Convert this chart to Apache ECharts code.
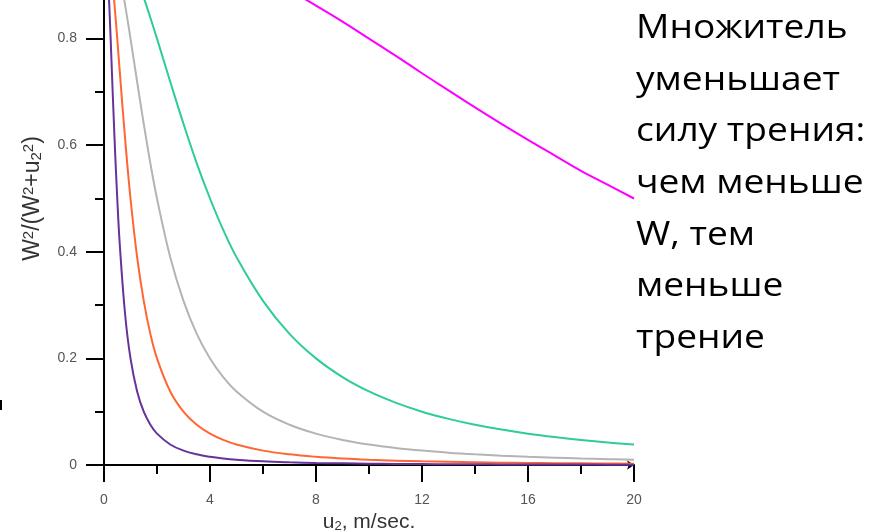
<!DOCTYPE html>
<html><head><meta charset="utf-8">
<script src="https://cdn.jsdelivr.net/npm/echarts@6/dist/echarts.min.js"></script>
<style>html,body{margin:0;padding:0;background:#fff;overflow:hidden;width:877px;height:532px}
#c{position:absolute;left:0;top:-68px;width:877px;height:600px}</style>
</head><body><div id="c"></div>
<script>
// u2 values (m/sec.)
const uValues = [0,0.1,0.2,0.3,0.4,0.5,0.6,0.8,1,1.25,1.5,1.75,2,2.5,3,3.5,4,4.5,5,6,7,8,9,10,11,12,13,14,15,16,17,18,19,20];
// W = 20 (magenta)
const curveW20 = [1,1,1,1,1,0.999,0.999,0.998,0.998,0.996,0.994,0.992,0.990,0.985,0.978,0.970,0.962,0.952,0.941,0.917,0.891,0.862,0.832,0.800,0.768,0.735,0.703,0.671,0.640,0.610,0.581,0.552,0.526,0.500];
// W = 4 (green)
const curveW4 = [1,0.999,0.998,0.994,0.990,0.985,0.978,0.962,0.941,0.911,0.877,0.839,0.800,0.719,0.640,0.566,0.500,0.441,0.390,0.308,0.246,0.200,0.165,0.138,0.117,0.100,0.0865,0.0755,0.0664,0.0588,0.0525,0.0471,0.0424,0.0385];
// W = 2 (gray)
const curveW2 = [1,0.998,0.990,0.978,0.962,0.941,0.917,0.862,0.800,0.719,0.640,0.566,0.500,0.390,0.308,0.246,0.200,0.165,0.138,0.100,0.0755,0.0588,0.0471,0.0385,0.032,0.027,0.0231,0.020,0.0175,0.0154,0.0137,0.0122,0.011,0.0099];
// W = 1 (orange)
const curveW1 = [1,0.990,0.962,0.917,0.862,0.800,0.735,0.610,0.500,0.390,0.308,0.246,0.200,0.138,0.100,0.0755,0.0588,0.0471,0.0385,0.027,0.020,0.0154,0.0122,0.0099,0.0082,0.0069,0.0059,0.0051,0.0044,0.0039,0.0034,0.0031,0.0028,0.0025];
// W = 0.5 (purple)
const curveW05 = [1,0.962,0.862,0.735,0.610,0.500,0.410,0.281,0.200,0.138,0.100,0.0755,0.0588,0.0385,0.027,0.020,0.0154,0.0122,0.0099,0.0069,0.0051,0.0039,0.0031,0.0025,0.0021,0.0017,0.0015,0.0013,0.0011,0.001,0.0009,0.0008,0.0007,0.0006];
// black line lying on the zero level
const curveZero = [0,0,0,0,0,0,0,0,0,0,0,0,0,0,0,0,0,0,0,0,0,0,0,0,0,0,0,0,0,0,0,0,0,0];
const xTicks = [0,4,8,12,16,20];
const yTicks = [0,0.2,0.4,0.6,0.8];
const noteLines = ['Множитель','уменьшает','силу трения:','чем меньше','W, тем','меньше','трение'];

const pairs = arr => uValues.map((u,i)=>[u,arr[i]]);
const chart = echarts.init(document.getElementById('c'), null, {renderer:'canvas'});
const axisCol = '#000';
const OFF = 68; // chart canvas starts 68px above the page
const mk = (data,color,w) => ({type:'line',data:pairs(data),showSymbol:false,smooth:0.4,
  lineStyle:{color:color,width:w||2},itemStyle:{color:color},z:2,animation:false});
const graphics = noteLines.map((t,i)=>({type:'text',x:636,y:OFF+13+51.6*i,scaleX:1.16,
  style:{text:t,font:'32px "Open Sans"',fill:'#000',textAlign:'left',textVerticalAlign:'top'}}));
graphics.push({type:'rect',shape:{x:0,y:OFF+400,width:2,height:10},style:{fill:'#000'}});
chart.setOption({
  animation:false,
  grid:{left:104,right:243,top:0,bottom:67,containLabel:false,outerBoundsMode:'none'},
  xAxis:{type:'value',min:0,max:20,interval:4,
    axisLine:{lineStyle:{color:axisCol,width:2},symbol:['none','arrow'],symbolSize:[7,7],symbolOffset:[0,0]},
    axisTick:{show:true,length:17,lineStyle:{color:axisCol,width:2}},
    minorTick:{show:true,splitNumber:2,length:9,lineStyle:{color:axisCol,width:2}},
    splitLine:{show:false},
    axisLabel:{margin:28,color:'#555',fontSize:14,fontFamily:'Liberation Sans',
      formatter:v=>xTicks.includes(v)?String(v):''},
    name:'{b|u}{sub|2}{b|, m/sec.}',nameLocation:'middle',nameGap:42,
    nameTextStyle:{color:'#333',rich:{b:{fontSize:21,fontFamily:'Liberation Sans',color:'#333'},
      sub:{fontSize:13,fontFamily:'Liberation Sans',color:'#333',verticalAlign:'bottom',padding:[8,0,0,0]}}}},
  yAxis:{type:'value',min:0,max:1,interval:0.2,
    axisLine:{lineStyle:{color:axisCol,width:2}},
    axisTick:{show:true,length:18,lineStyle:{color:axisCol,width:2}},
    minorTick:{show:true,splitNumber:2,length:9,lineStyle:{color:axisCol,width:2}},
    splitLine:{show:false},
    axisLabel:{margin:27,color:'#555',fontSize:14,fontFamily:'Liberation Sans',
      formatter:v=>{const k=yTicks.find(t=>Math.abs(t-v)<1e-9);return k===undefined?'':String(k);}},
    name:'{b|W}{sup|2}{b|/(W}{sup|2}{b|+u}{sub|2}{sup|2}{b|)}',nameLocation:'middle',nameGap:60,nameRotate:90,
    nameTextStyle:{color:'#333',rich:{b:{fontSize:23,fontFamily:'Liberation Sans',color:'#333'},
      sup:{fontSize:15,fontFamily:'Liberation Sans',color:'#333',verticalAlign:'top',padding:[0,0,8,0]},
      sub:{fontSize:15,fontFamily:'Liberation Sans',color:'#333',verticalAlign:'bottom',padding:[8,0,0,0]}}}},
  series:[
    mk(curveZero,'#000000'),
    mk(curveW20,'#ff00ff'),
    mk(curveW4,'#2ecc96'),
    mk(curveW2,'#b4b4b4'),
    mk(curveW1,'#ff6633'),
    mk(curveW05,'#663399')
  ],
  graphic:graphics
});
</script></body></html>
